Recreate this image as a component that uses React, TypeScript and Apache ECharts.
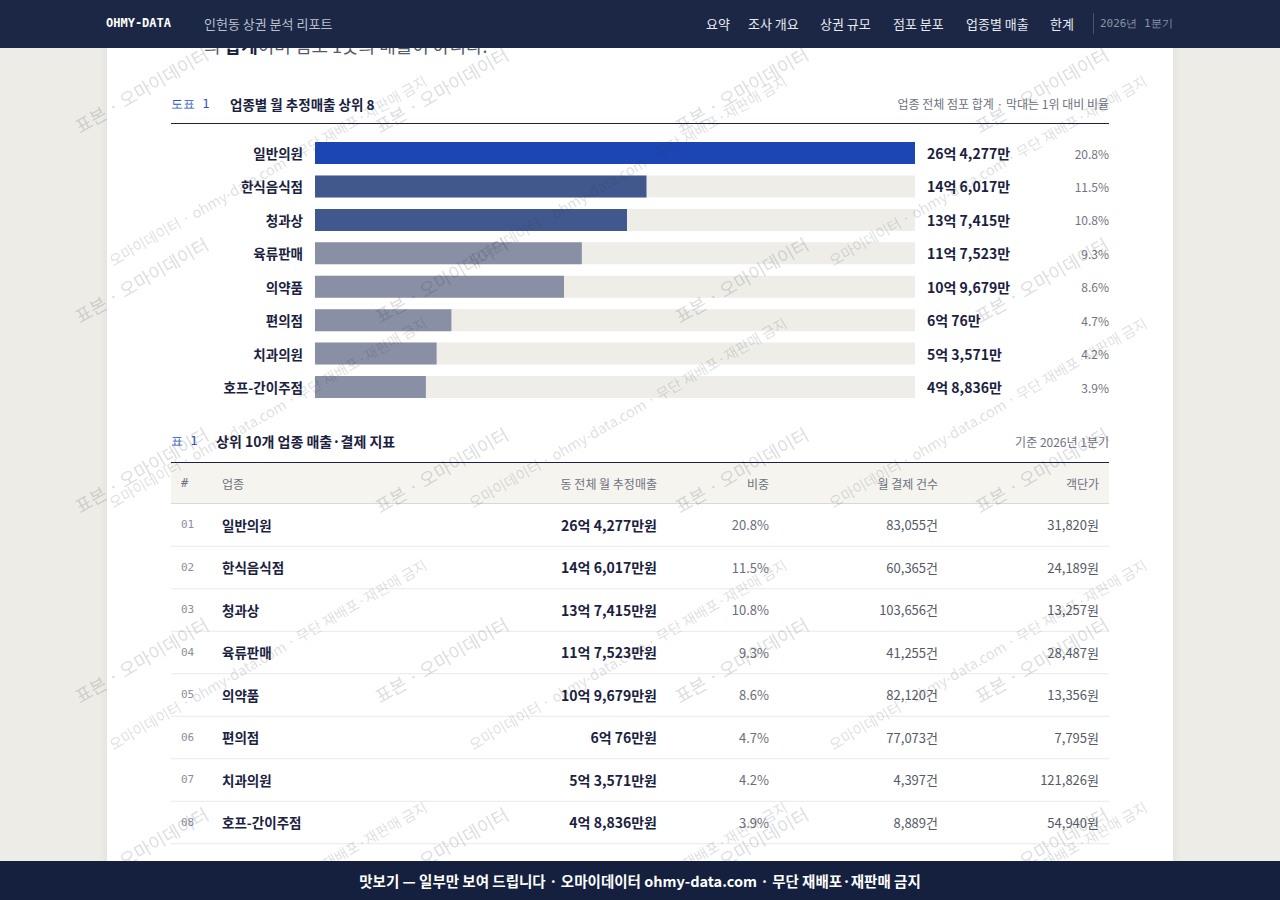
import React, { useEffect, useRef } from "react";
import * as echarts from "echarts";

// ---------- data ----------
const categories = ["일반의원", "한식음식점", "청과상", "육류판매", "의약품", "편의점", "치과의원", "호프-간이주점"];
const salesEok = [26.4277, 14.6017, 13.7415, 11.7523, 10.9679, 6.0076, 5.3571, 4.8836];
const salesLabels = ["26억 4,277만", "14억 6,017만", "13억 7,415만", "11억 7,523만", "10억 9,679만", "6억 76만", "5억 3,571만", "4억 8,836만"];
const shareLabels = ["20.8%", "11.5%", "10.8%", "9.3%", "8.6%", "4.7%", "4.2%", "3.9%"];

const tableRanks = ["01", "02", "03", "04", "05", "06", "07", "08"];
const tableNames = ["일반의원", "한식음식점", "청과상", "육류판매", "의약품", "편의점", "치과의원", "호프-간이주점"];
const tableSales = ["26억 4,277만원", "14억 6,017만원", "13억 7,415만원", "11억 7,523만원", "10억 9,679만원", "6억 76만원", "5억 3,571만원", "4억 8,836만원"];
const tableShares = ["20.8%", "11.5%", "10.8%", "9.3%", "8.6%", "4.7%", "4.2%", "3.9%"];
const tableCounts = ["83,055건", "60,365건", "103,656건", "41,255건", "82,120건", "77,073건", "4,397건", "8,889건"];
const tablePrices = ["31,820원", "24,189원", "13,257원", "28,487원", "13,356원", "7,795원", "121,826원", "54,940원"];
const tableHeaders = ["#", "업종", "동 전체 월 추정매출", "비중", "월 결제 건수", "객단가"];

const navItems = ["요약", "조사 개요", "상권 규모", "점포 분포", "업종별 매출", "한계"];

const wmBig = "표본 · 오마이데이터";
const wmSmallPrefix = "오마이데이터 · ohmy-data.com · ";
const wmSmallRest = "무단 재배포·재판매 금지";

// ---------- styles / layout ----------
const FONT_KR = '"Noto Sans CJK KR", "Noto Sans", sans-serif';
const FONT_MONO = '"DejaVu Sans Mono", "Liberation Mono", monospace';
const NAVY = "#1a2240";
const GRAY = "#6e7280";
const BLUE = "#2c51c4";
const navX = [706, 748, 820, 893, 966, 1050];

const barColor = (i: number) => (i === 0 ? "#1d46b5" : i < 3 ? "#41588f" : "#8990a5");

const T = (x: number, y: number, text: string, o: any = {}) => ({
  type: "text",
  x,
  y,
  z: o.z ?? 1,
  silent: true,
  rotation: o.rotation ?? 0,
  style: {
    text,
    fill: o.fill ?? NAVY,
    fontSize: o.size ?? 12,
    fontWeight: o.weight ?? "normal",
    fontFamily: o.family ?? FONT_KR,
    align: o.align ?? "left",
    textAlign: o.align ?? "left",
    verticalAlign: "middle",
    textVerticalAlign: "middle",
    rich: o.rich,
  },
});

const HL = (x1: number, x2: number, y: number, stroke: string, lw = 1, z = 1) => ({
  type: "line",
  z,
  silent: true,
  shape: { x1, y1: y, x2, y2: y },
  style: { stroke, lineWidth: lw },
});

export default function App() {
  const ref = useRef<HTMLDivElement>(null);

  useEffect(() => {
    if (!ref.current) return;
    const chart = echarts.init(ref.current, null, { renderer: "svg" });
    const maxVal = Math.max(...salesEok);

    const rowH = 42.5;
    const tableTop = 503.25;
    const barTop = 136.3;
    const barPitch = 33.43;

    // watermarks
    const ang = Math.PI / 6;
    const smallSize = 14.5;
    let prefixW = 212;
    try {
      const probe = new (echarts.graphic as any).Text({
        style: { text: wmSmallPrefix, fontSize: smallSize, fontFamily: FONT_KR },
      });
      const w = probe.getBoundingRect().width;
      if (w > 0) prefixW = w;
    } catch (e) {
      /* keep estimate */
    }

    const wm: any[] = [];
    for (let j = 0; j < 5; j++) {
      for (let k = 0; k < 4; k++) {
        wm.push(
          T(76 + 300 * k, 127 + 190 * j, wmBig, {
            size: 18,
            fill: "rgba(40,45,60,0.18)",
            rotation: ang,
            z: 50,
          })
        );
      }
    }
    for (let n = 0; n < 4; n++) {
      for (let m = 0; m < 3; m++) {
        const x0 = 110 + 360 * m;
        const y0 = 261 + 242 * n;
        const style = { size: smallSize, fill: "rgba(40,45,60,0.17)", rotation: ang, z: 50 };
        if (y0 > 860) {
          // only the end of this line shows above the footer
          wm.push(T(x0 + prefixW * Math.cos(ang), y0 - prefixW * Math.sin(ang), wmSmallRest, style));
        } else {
          wm.push(T(x0, y0, wmSmallPrefix + wmSmallRest, style));
        }
      }
    }

    const headerCols = [
      { x: 181, align: "left", family: FONT_MONO },
      { x: 222, align: "left", family: FONT_KR },
      { x: 657, align: "right", family: FONT_KR },
      { x: 769, align: "right", family: FONT_KR },
      { x: 938, align: "right", family: FONT_KR },
      { x: 1099, align: "right", family: FONT_KR },
    ];

    const graphics: any[] = [
      // card
      {
        type: "rect",
        z: -1,
        silent: true,
        shape: { x: 107, y: 0, width: 1066, height: 900 },
        style: { fill: "#ffffff", shadowBlur: 8, shadowColor: "rgba(0,0,0,0.07)" },
      },
      // partially hidden paragraph
      T(204, 45, "{a|의 }{b|합계}{a|이며 점포 1곳의 매출이 아니다.}", {
        rich: {
          a: { fontSize: 18, fill: "#555a66", color: "#555a66", fontFamily: FONT_KR },
          b: { fontSize: 18, fontWeight: "bold", fill: NAVY, color: NAVY, fontFamily: FONT_KR },
        },
        size: 18,
      }),
      // chart title
      T(171, 104, "도표 1", { family: FONT_MONO, size: 12, fill: BLUE }),
      T(230, 104, "업종별 월 추정매출 상위 8", { size: 13.5, weight: "bold" }),
      T(1109, 103, "업종 전체 점포 합계 · 막대는 1위 대비 비율", { size: 12, fill: GRAY, align: "right" }),
      HL(171, 1109, 123.5, NAVY, 1),
      // table title
      T(171, 441, "표 1", { family: FONT_MONO, size: 12, fill: BLUE }),
      T(216, 441, "상위 10개 업종 매출·결제 지표", { size: 14, weight: "bold" }),
      T(1109, 441, "기준 2026년 1분기", { size: 12, fill: GRAY, align: "right" }),
      {
        type: "rect",
        z: 0,
        silent: true,
        shape: { x: 171, y: 463, width: 938, height: 40 },
        style: { fill: "#f5f4ef" },
      },
      HL(171, 1109, 462.5, NAVY, 1.2),
      HL(171, 1109, 503.5, "#dcd9d2", 1),
      ...tableHeaders.map((h, i) =>
        T(headerCols[i].x, 483, h, {
          size: 12,
          fill: GRAY,
          align: headerCols[i].align,
          family: headerCols[i].family,
        })
      ),
      ...wm,
      // header
      {
        type: "rect",
        z: 100,
        silent: true,
        shape: { x: 0, y: 0, width: 1280, height: 48 },
        style: { fill: "#1b2745" },
      },
      T(106, 23, "OHMY-DATA", { family: FONT_MONO, size: 12, weight: "bold", fill: "#ffffff", z: 101 }),
      T(204, 23, "인헌동 상권 분석 리포트", { size: 13, fill: "#b9c0cf", z: 101 }),
      ...navItems.map((n, i) => T(navX[i], 23, n, { size: 13, fill: "#e8ebf1", z: 101 })),
      {
        type: "line",
        z: 101,
        silent: true,
        shape: { x1: 1093.5, y1: 13, x2: 1093.5, y2: 34 },
        style: { stroke: "rgba(255,255,255,0.2)", lineWidth: 1 },
      },
      T(1100, 23, "2026년 1분기", { family: FONT_MONO, size: 11, fill: "#8b93a8", z: 101 }),
      {
        type: "rect",
        z: 102,
        silent: true,
        shape: { x: 1173, y: 0, width: 107, height: 48 },
        style: { fill: "#1b2745" },
      },
      // footer
      {
        type: "rect",
        z: 100,
        silent: true,
        shape: { x: 0, y: 861, width: 1280, height: 39 },
        style: { fill: "#14203e" },
      },
      T(640, 880.5, "맛보기 — 일부만 보여 드립니다 · 오마이데이터 ohmy-data.com · 무단 재배포·재판매 금지", {
        size: 14.5,
        weight: "bold",
        fill: "#ffffff",
        align: "center",
        z: 101,
      }),
    ];

    const option: any = {
      animation: false,
      backgroundColor: "#eeece7",
      grid: [
        { left: 315, width: 600, top: barTop, height: barPitch * categories.length },
        { left: 171, width: 938, top: tableTop, height: rowH * tableNames.length },
      ],
      xAxis: [
        { type: "value", gridIndex: 0, min: 0, max: maxVal, show: false },
        { type: "value", gridIndex: 1, min: 0, max: 1, show: false },
      ],
      yAxis: [
        {
          type: "category",
          gridIndex: 0,
          data: categories,
          inverse: true,
          z: 5,
          axisLine: { show: false },
          axisTick: { show: false },
          axisLabel: {
            margin: 12,
            fontSize: 13.5,
            fontWeight: "bold",
            color: NAVY,
            fontFamily: FONT_KR,
          },
        },
        { type: "category", gridIndex: 1, data: tableNames, inverse: true, show: false },
      ],
      series: [
        {
          type: "bar",
          name: "track",
          xAxisIndex: 0,
          yAxisIndex: 0,
          data: categories.map(() => maxVal),
          barWidth: 22,
          barGap: "-100%",
          silent: true,
          z: 2,
          itemStyle: { color: "#efede8" },
          label: {
            show: true,
            position: "right",
            distance: 12,
            formatter: (p: any) => `{v|${salesLabels[p.dataIndex]}}{p|${shareLabels[p.dataIndex]}}`,
            rich: {
              v: { width: 150, fontSize: 14, fontWeight: "bold", color: NAVY, fontFamily: FONT_KR },
              p: { width: 32, align: "right", fontSize: 12, color: "#707480", fontFamily: FONT_KR },
            },
          },
        },
        {
          type: "bar",
          name: "sales",
          xAxisIndex: 0,
          yAxisIndex: 0,
          data: salesEok.map((v, i) => ({ value: v, itemStyle: { color: barColor(i) } })),
          barWidth: 22,
          barGap: "-100%",
          silent: true,
          z: 3,
        },
        {
          type: "custom",
          name: "table",
          xAxisIndex: 1,
          yAxisIndex: 1,
          silent: true,
          z: 2,
          data: tableNames.map((_, i) => [0, i]),
          encode: { x: 0, y: 1 },
          renderItem: (params: any, api: any) => {
            const i = params.dataIndex;
            const y = api.coord([0, api.value(1)])[1];
            const half = api.size([0, 1])[1] / 2;
            const cell = (x: number, text: string, o: any) => ({
              type: "text",
              x,
              y,
              style: {
                text,
                fill: o.fill,
                fontSize: o.size,
                fontWeight: o.weight ?? "normal",
                fontFamily: o.family ?? FONT_KR,
                align: o.align ?? "left",
                textAlign: o.align ?? "left",
                verticalAlign: "middle",
                textVerticalAlign: "middle",
              },
            });
            return {
              type: "group",
              children: [
                cell(181, tableRanks[i], { fill: "#8a8f9c", size: 11, family: FONT_MONO }),
                cell(222, tableNames[i], { fill: NAVY, size: 13.5, weight: "bold" }),
                cell(657, tableSales[i], { fill: NAVY, size: 14, weight: "bold", align: "right" }),
                cell(769, tableShares[i], { fill: "#6a6e7a", size: 13, align: "right" }),
                cell(938, tableCounts[i], { fill: "#555a66", size: 13, align: "right" }),
                cell(1099, tablePrices[i], { fill: "#555a66", size: 13, align: "right" }),
                {
                  type: "line",
                  shape: { x1: 171, y1: y + half + 0.5, x2: 1109, y2: y + half + 0.5 },
                  style: { stroke: "#ebe9e4", lineWidth: 1 },
                },
              ],
            };
          },
        },
      ],
      graphic: { elements: graphics },
    };

    chart.setOption(option);
    return () => chart.dispose();
  }, []);

  return (
    <div
      ref={ref}
      style={{ position: "fixed", left: 0, top: 0, width: 1280, height: 900 }}
    />
  );
}
